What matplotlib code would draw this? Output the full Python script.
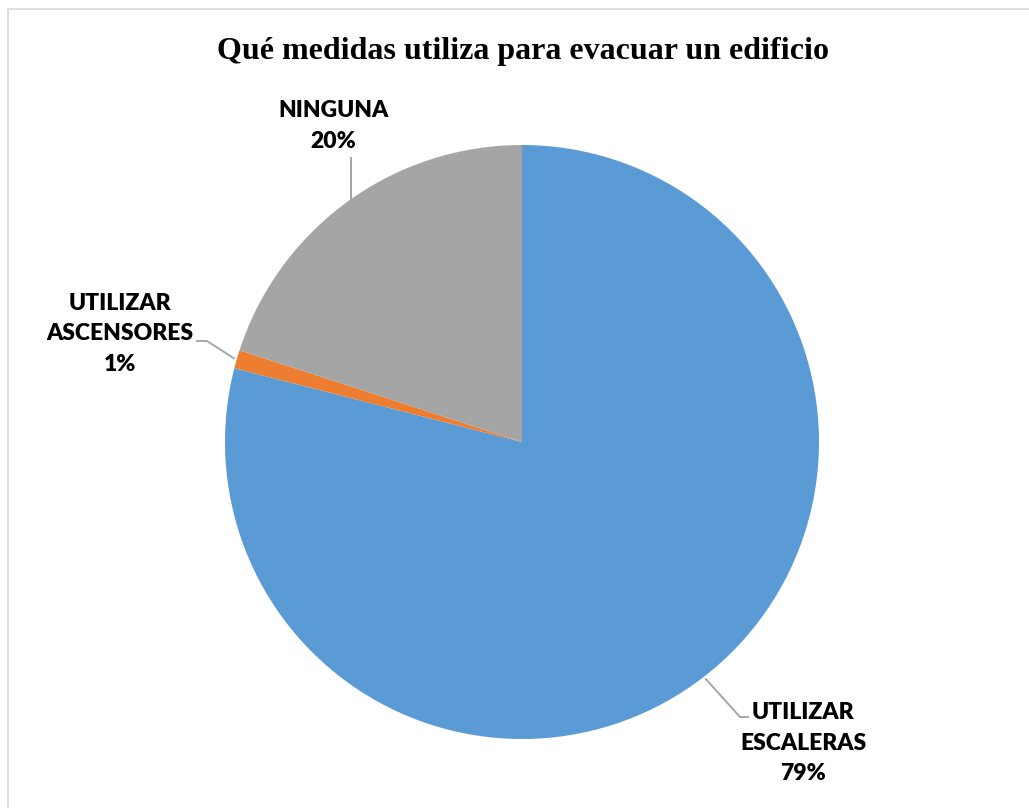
import numpy as np
import matplotlib.pyplot as plt
from matplotlib.lines import Line2D

# data
categories = ['UTILIZAR\nESCALERAS', 'UTILIZAR\nASCENSORES', 'NINGUNA']
values = [79, 1, 20]
colors = ['#5B9BD5', '#ED7D31', '#A5A5A5']
title = 'Qué medidas utiliza para evacuar un edificio'

W, H = 1029, 808
fig = plt.figure(figsize=(W / 100, H / 100), dpi=100)

# pie centre (522, 442) px, radius 297 px
cx, cy, r = 522, 442, 297
ax = fig.add_axes([(cx - r) / W, (H - cy - r) / H, 2 * r / W, 2 * r / H])
wedges, _ = ax.pie(values, colors=colors, startangle=90, counterclock=False,
                   radius=1, center=(0, 0), frame=True)
ax.set_xlim(-1, 1)
ax.set_ylim(-1, 1)
ax.set_axis_off()

# border (top and left only visible)
fig.add_artist(Line2D([8 / W, 1], [1 - 9 / H, 1 - 9 / H], color='#D9D9D9', lw=1.2))
fig.add_artist(Line2D([8 / W, 8 / W], [0, 1 - 9 / H], color='#D9D9D9', lw=1.2))

fig.text(0.508, 1 - 51 / H, title, ha='center', va='center',
         fontsize=23, fontweight='bold', family='Liberation Serif')

lbl_font = dict(fontsize=16.5, fontweight='heavy', family='Lato', color='black')
lead = dict(color='#A6A6A6', lw=1.4, clip_on=False)

def px(x, y):
    return (x - cx) / r, (cy - y) / r

# leader lines: (elbow point, end point) in px, text centre in px
layout = [
    ((740, 717), (748, 717), (803, 743)),
    ((207, 341), (197, 341), (120, 334)),
    ((351, 158), (351, 158), (333, 126)),
]

for w, v, cat, (elb, end, tc) in zip(wedges, values, categories, layout):
    ang = np.deg2rad((w.theta1 + w.theta2) / 2)
    x0, y0 = np.cos(ang) * 1.01, np.sin(ang) * 1.01
    ex, ey = px(*elb)
    fx, fy = px(*end)
    if elb == end:
        x0 = ex
    ax.plot([x0, ex, fx], [y0, ey, fy], **lead)
    tx, ty = px(*tc)
    ax.text(tx, ty, '%s\n%d%%' % (cat, v), ha='center', va='center',
            linespacing=1.55, **lbl_font)

fig.savefig('out.png', dpi=100)
